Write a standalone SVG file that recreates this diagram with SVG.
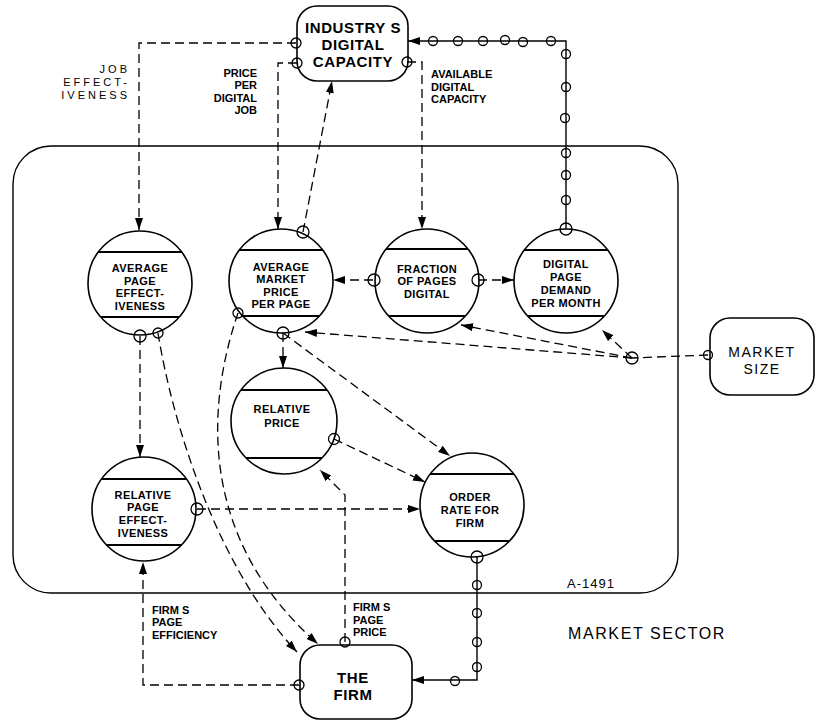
<svg xmlns="http://www.w3.org/2000/svg" width="815" height="721" viewBox="0 0 815 721">
<style>
.box{fill:none;stroke:#000;stroke-width:1.6}
.sector{fill:none;stroke:#000;stroke-width:1.4}
.node{fill:#fff;stroke:#000;stroke-width:1.6}
.bar{stroke:#000;stroke-width:2}
.d{fill:none;stroke:#000;stroke-width:1.3;stroke-dasharray:9 5}
.s{fill:none;stroke:#000;stroke-width:1.4}
.p{fill:none;stroke:#000;stroke-width:1.3}
.nt{font-family:"Liberation Sans",Arial,sans-serif;font-weight:bold;font-size:11px;text-anchor:middle;letter-spacing:0.4px}
.bt{font-family:"Liberation Sans",Arial,sans-serif;font-weight:bold;font-size:15px;text-anchor:middle;letter-spacing:0.6px}
.lb{font-family:"Liberation Sans",Arial,sans-serif;font-weight:bold;font-size:11px}
.wide{font-family:"Liberation Sans",Arial,sans-serif;font-size:11px;letter-spacing:3px}
</style>
<defs>
<marker id="ah" viewBox="0 0 12 8" refX="12" refY="4" markerWidth="12" markerHeight="8" markerUnits="userSpaceOnUse" orient="auto">
<path d="M0,0 L12,4 L0,8 Z" fill="#000"/>
</marker>
</defs>
<rect width="815" height="721" fill="#fff"/>

<g id="market-sector">
<rect class="sector" x="13" y="146" width="665" height="447" rx="38"/>
<text x="568" y="639" font-family="Liberation Sans, Arial, sans-serif" font-size="16" letter-spacing="1.6">MARKET SECTOR</text>
<text x="567" y="588" font-family="Liberation Sans, Arial, sans-serif" font-size="13" letter-spacing="1">A-1491</text>
</g>

<g id="connectors">
<path class="d" d="M296,43 H139 V230" marker-end="url(#ah)"/>
<path class="d" d="M297,63 H278 V229" marker-end="url(#ah)"/>
<path class="d" d="M407,62 H422 V229" marker-end="url(#ah)"/>
<path class="d" d="M303,232 L332,81" marker-end="url(#ah)"/>
<path class="s" d="M566,229 V41 H408" marker-end="url(#ah)"/>
<path class="d" d="M373,280 H333" marker-end="url(#ah)"/>
<path class="d" d="M478,280 H514" marker-end="url(#ah)"/>
<path class="d" d="M708,355 L632,358"/>
<path class="d" d="M632,358 L305,332" marker-end="url(#ah)"/>
<path class="d" d="M632,358 L461,325" marker-end="url(#ah)"/>
<path class="d" d="M632,358 L602,330" marker-end="url(#ah)"/>
<path class="d" d="M283,333 V368" marker-end="url(#ah)"/>
<path class="d" d="M283,333 L450,456" marker-end="url(#ah)"/>
<path class="d" d="M334,439 L425,482" marker-end="url(#ah)"/>
<path class="d" d="M197,509 H420" marker-end="url(#ah)"/>
<path class="s" d="M477,557 V680 H412" marker-end="url(#ah)"/>
<path class="d" d="M345,642 V495 L320,470" marker-end="url(#ah)"/>
<path class="d" d="M299,685 H143 V562" marker-end="url(#ah)"/>
<path class="d" d="M158,333 C172,420 215,565 297,652" marker-end="url(#ah)"/>
<path class="d" d="M238,313 C205,410 200,540 318,644" marker-end="url(#ah)"/>
<path class="d" d="M140,336 V457" marker-end="url(#ah)"/>
<g id="chain-markers">
<circle class="p" cx="433" cy="41" r="4.5"/>
<circle class="p" cx="458" cy="41" r="4.5"/>
<circle class="p" cx="483" cy="41" r="4.5"/>
<circle class="p" cx="505" cy="40" r="4.5"/>
<circle class="p" cx="523" cy="42" r="4.5"/>
<circle class="p" cx="551" cy="41" r="4.5"/>
<circle class="p" cx="566" cy="54" r="4.5"/>
<circle class="p" cx="566" cy="87" r="4.5"/>
<circle class="p" cx="565" cy="118" r="4.5"/>
<circle class="p" cx="566" cy="153" r="4.5"/>
<circle class="p" cx="566" cy="175" r="4.5"/>
<circle class="p" cx="566" cy="200" r="4.5"/>
<circle class="p" cx="477" cy="585" r="4.5"/>
<circle class="p" cx="477" cy="613" r="4.5"/>
<circle class="p" cx="477" cy="642" r="4.5"/>
<circle class="p" cx="477" cy="667" r="4.5"/>
<circle class="p" cx="455" cy="681" r="4.5"/>
</g>
</g>

<g id="industry-digital-capacity">
<rect class="box" x="297" y="6" width="111" height="75" rx="20"/>
<text class="bt" x="353" y="33" letter-spacing="1.2">INDUSTRY S</text>
<text class="bt" x="353" y="50">DIGITAL</text>
<text class="bt" x="353" y="67">CAPACITY</text>
<circle class="p" cx="296" cy="43" r="5"/>
<circle class="p" cx="297" cy="63" r="5"/>
<circle class="p" cx="407" cy="62" r="5"/>
</g>

<g id="average-page-effectiveness">
<circle class="node" cx="140" cy="283" r="52"/>
<line class="bar" x1="98" y1="252" x2="182" y2="252"/>
<line class="bar" x1="101" y1="317" x2="179" y2="317"/>
<text class="nt" x="140" y="272">AVERAGE</text>
<text class="nt" x="140" y="285">PAGE</text>
<text class="nt" x="140" y="297">EFFECT-</text>
<text class="nt" x="140" y="310">IVENESS</text>
<circle class="p" cx="140" cy="336" r="6"/>
<circle class="p" cx="158" cy="333" r="5"/>
</g>

<g id="average-market-price">
<circle class="node" cx="281" cy="281" r="52"/>
<line class="bar" x1="239" y1="250" x2="323" y2="250"/>
<line class="bar" x1="243" y1="316" x2="319" y2="316"/>
<text class="nt" x="281" y="271">AVERAGE</text>
<text class="nt" x="281" y="283">MARKET</text>
<text class="nt" x="281" y="296">PRICE</text>
<text class="nt" x="281" y="308">PER PAGE</text>
<circle class="p" cx="303" cy="232" r="6"/>
<circle class="p" cx="238" cy="313" r="5"/>
<circle class="p" cx="283" cy="333" r="6"/>
</g>

<g id="fraction-of-pages-digital">
<circle class="node" cx="427" cy="281" r="52"/>
<line class="bar" x1="386" y1="249" x2="468" y2="249"/>
<line class="bar" x1="389" y1="316" x2="465" y2="316"/>
<text class="nt" x="427" y="273">FRACTION</text>
<text class="nt" x="427" y="285">OF PAGES</text>
<text class="nt" x="427" y="298">DIGITAL</text>
<circle class="p" cx="374" cy="280" r="6"/>
<circle class="p" cx="478" cy="280" r="6"/>
</g>

<g id="digital-page-demand">
<circle class="node" cx="566" cy="281" r="52"/>
<line class="bar" x1="524" y1="250" x2="608" y2="250"/>
<line class="bar" x1="528" y1="316" x2="604" y2="316"/>
<text class="nt" x="566" y="268">DIGITAL</text>
<text class="nt" x="566" y="281">PAGE</text>
<text class="nt" x="566" y="294">DEMAND</text>
<text class="nt" x="566" y="307">PER MONTH</text>
<circle class="p" cx="566" cy="229" r="6"/>
</g>

<g id="market-size">
<rect class="box" x="710" y="318" width="104" height="77" rx="20"/>
<text x="762" y="357" font-family="Liberation Sans, Arial, sans-serif" font-size="14" text-anchor="middle" letter-spacing="1.5">MARKET</text>
<text x="762" y="374" font-family="Liberation Sans, Arial, sans-serif" font-size="14" text-anchor="middle" letter-spacing="1.5">SIZE</text>
<circle class="p" cx="708" cy="355" r="4.5"/>
<circle class="p" cx="632" cy="358" r="6"/>
</g>

<g id="relative-price">
<circle class="node" cx="284" cy="421" r="53"/>
<line class="bar" x1="241" y1="390" x2="327" y2="390"/>
<line class="bar" x1="246" y1="458" x2="322" y2="458"/>
<text class="nt" x="282" y="413">RELATIVE</text>
<text class="nt" x="282" y="427">PRICE</text>
<circle class="p" cx="334" cy="439" r="5.5"/>
</g>

<g id="relative-page-effectiveness">
<circle class="node" cx="144" cy="509" r="52"/>
<line class="bar" x1="102" y1="479" x2="186" y2="479"/>
<line class="bar" x1="106" y1="545" x2="182" y2="545"/>
<text class="nt" x="143" y="499">RELATIVE</text>
<text class="nt" x="143" y="511">PAGE</text>
<text class="nt" x="143" y="524">EFFECT-</text>
<text class="nt" x="143" y="537">IVENESS</text>
<circle class="p" cx="197" cy="509" r="6"/>
</g>

<g id="order-rate-for-firm">
<circle class="node" cx="472" cy="505" r="52"/>
<line class="bar" x1="430" y1="474" x2="514" y2="474"/>
<line class="bar" x1="434" y1="541" x2="510" y2="541"/>
<text class="nt" x="470" y="501">ORDER</text>
<text class="nt" x="470" y="514">RATE FOR</text>
<text class="nt" x="470" y="527">FIRM</text>
<circle class="p" cx="477" cy="557" r="6"/>
</g>

<g id="the-firm">
<rect class="box" x="300" y="645" width="112" height="74" rx="20"/>
<text class="bt" x="353" y="683" letter-spacing="0">THE</text>
<text class="bt" x="353" y="700" letter-spacing="0">FIRM</text>
<circle class="p" cx="345" cy="642" r="5"/>
<circle class="p" cx="299" cy="685" r="5"/>
</g>

<g id="labels">
<text class="wide" x="130" y="73" text-anchor="end">JOB</text>
<text class="wide" x="130" y="86" text-anchor="end">EFFECT-</text>
<text class="wide" x="130" y="99" text-anchor="end">IVENESS</text>
<text class="lb" x="257" y="77" text-anchor="end">PRICE</text>
<text class="lb" x="257" y="89" text-anchor="end">PER</text>
<text class="lb" x="257" y="102" text-anchor="end">DIGITAL</text>
<text class="lb" x="257" y="114" text-anchor="end">JOB</text>
<text class="lb" x="431" y="78">AVAILABLE</text>
<text class="lb" x="431" y="91">DIGITAL</text>
<text class="lb" x="431" y="103">CAPACITY</text>
<text class="lb" x="152" y="614">FIRM S</text>
<text class="lb" x="152" y="626">PAGE</text>
<text class="lb" x="152" y="639">EFFICIENCY</text>
<text class="lb" x="353" y="611">FIRM S</text>
<text class="lb" x="353" y="624">PAGE</text>
<text class="lb" x="353" y="636">PRICE</text>
</g>
</svg>
